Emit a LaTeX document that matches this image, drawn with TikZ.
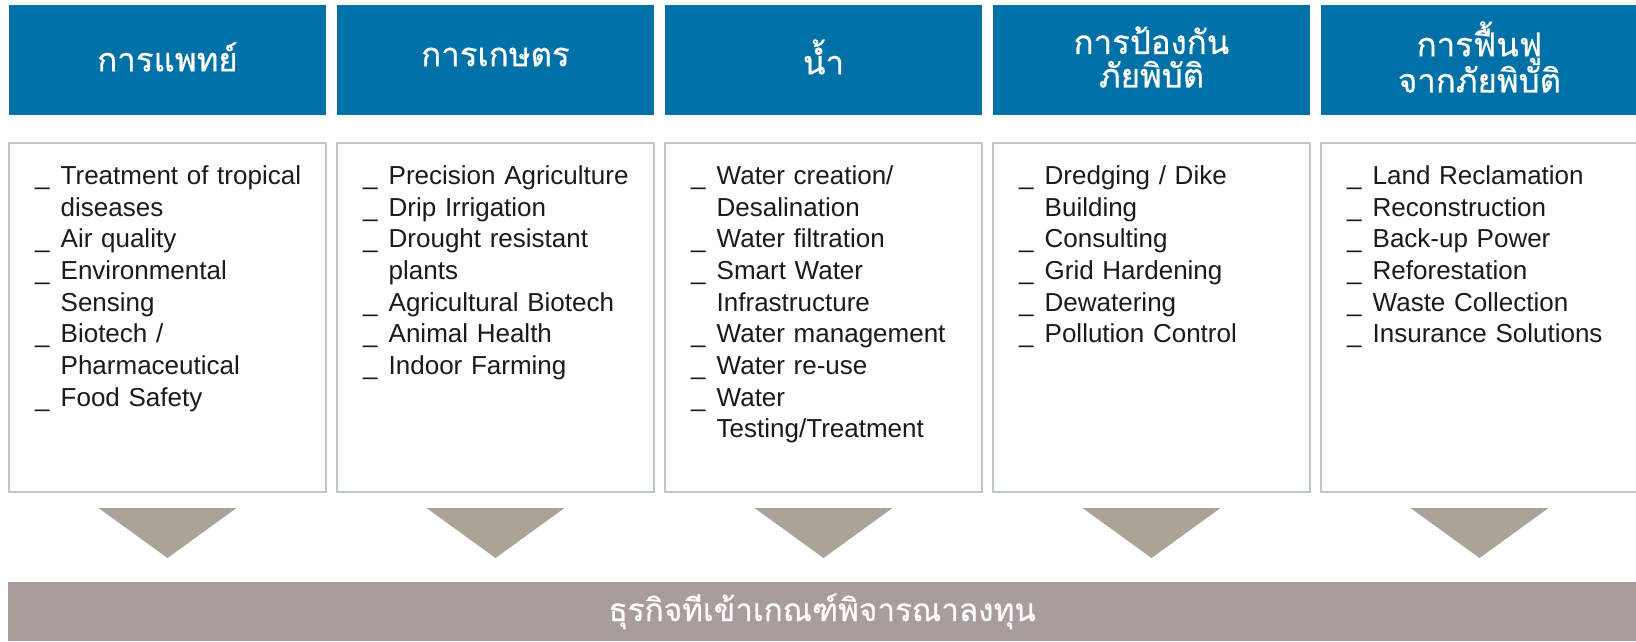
\documentclass[tikz,border=0pt]{standalone}
\usepackage{fontspec}
\setmainfont{Liberation Sans}
\newfontfamily\thaifont[Script=Thai,FakeBold=0.6]{Loma}
\usepackage{xcolor}
\usepackage{tikz}
\usetikzlibrary{positioning,calc}
\definecolor{headblue}{HTML}{0071A7}
\definecolor{boxline}{HTML}{BCC6CB}
\definecolor{itemtext}{HTML}{1A1A1A}
\definecolor{tricol}{HTML}{ACA397}
\definecolor{barcol}{HTML}{A99D9B}
\newcommand{\itm}[1]{\hangindent=25.5pt\hangafter=1\noindent\makebox[25.5pt][l]{\strut\_}#1\par}
\tikzset{
  head/.style={fill=headblue, minimum width=317pt, minimum height=110pt,
    inner sep=0pt, outer sep=0pt},
  headtext/.style={text=white, inner sep=0pt, align=center,
    font=\thaifont\fontsize{33}{33.5}\selectfont},
  bodybox/.style={draw=boxline, fill=white, line width=1.5pt, minimum width=317pt,
    minimum height=349pt, outer sep=0pt},
  items/.style={anchor=north west, inner sep=0pt, text width=285pt, align=left,
    text=itemtext, font=\fontsize{26}{31.7}\selectfont},
  tri/.style={fill=tricol},
  barbox/.style={fill=barcol, text=white, minimum width=1628pt, minimum height=59pt,
    inner sep=0pt, font=\thaifont\fontsize{31.5}{33.5}\selectfont},
}

\begin{document}
\begin{tikzpicture}[x=1pt, y=1pt]
  \useasboundingbox (0,0) rectangle (1636,641);
  \node[head] (head1) at (167.5,581) {};
  \node[head, right=11pt of head1] (head2) {};
  \node[head, right=11pt of head2] (head3) {};
  \node[head, right=11pt of head3] (head4) {};
  \node[head, right=11pt of head4] (head5) {};
  \node[headtext] (htext1) at ([yshift=3pt]head1.center) {การแพทย์};
  \node[headtext] (htext2) at ([yshift=3pt]head2.center) {การเกษตร};
  \node[headtext] (htext3) at ([yshift=3pt]head3.center) {น้ำ};
  \node[headtext] (htext4) at ([yshift=3pt]head4.center) {การป้องกัน\\ภัยพิบัติ};
  \node[headtext] (htext5) at ([yshift=3pt]head5.center) {การฟื้นฟู\\จากภัยพิบัติ};

  \node[bodybox, below=28pt of head1] (body1) {};
  \node[bodybox, below=28pt of head2] (body2) {};
  \node[bodybox, below=28pt of head3] (body3) {};
  \node[bodybox, below=28pt of head4] (body4) {};
  \node[bodybox, below=28pt of head5] (body5) {};

  \node[items] (list1) at ([xshift=26pt,yshift=-19pt]body1.north west) {
    \itm{Treatment of tropical\newline diseases}
    \itm{Air quality}
    \itm{Environmental\newline Sensing}
    \itm{Biotech /\newline Pharmaceutical}
    \itm{Food Safety}};
  \node[items] (list2) at ([xshift=26pt,yshift=-19pt]body2.north west) {
    \itm{Precision Agriculture}
    \itm{Drip Irrigation}
    \itm{Drought resistant\newline plants}
    \itm{Agricultural Biotech}
    \itm{Animal Health}
    \itm{Indoor Farming}};
  \node[items] (list3) at ([xshift=26pt,yshift=-19pt]body3.north west) {
    \itm{Water creation/\newline Desalination}
    \itm{Water filtration}
    \itm{Smart Water\newline Infrastructure}
    \itm{Water management}
    \itm{Water re-use}
    \itm{Water\newline Testing/Treatment}};
  \node[items] (list4) at ([xshift=26pt,yshift=-19pt]body4.north west) {
    \itm{Dredging / Dike\newline Building}
    \itm{Consulting}
    \itm{Grid Hardening}
    \itm{Dewatering}
    \itm{Pollution Control}};
  \node[items] (list5) at ([xshift=26pt,yshift=-19pt]body5.north west) {
    \itm{Land Reclamation}
    \itm{Reconstruction}
    \itm{Back-up Power}
    \itm{Reforestation}
    \itm{Waste Collection}
    \itm{Insurance Solutions}};

  \node[barbox, anchor=south west] (bar) at (8,0) {ธุรกิจทีเข้าเกณฑ์พิจารณาลงทุน};

  \fill[tri] ([xshift=-69pt,yshift=-16pt]body1.south) -- ++(138,0) -- ++(-69,-50) -- cycle;
  \fill[tri] ([xshift=-69pt,yshift=-16pt]body2.south) -- ++(138,0) -- ++(-69,-50) -- cycle;
  \fill[tri] ([xshift=-69pt,yshift=-16pt]body3.south) -- ++(138,0) -- ++(-69,-50) -- cycle;
  \fill[tri] ([xshift=-69pt,yshift=-16pt]body4.south) -- ++(138,0) -- ++(-69,-50) -- cycle;
  \fill[tri] ([xshift=-69pt,yshift=-16pt]body5.south) -- ++(138,0) -- ++(-69,-50) -- cycle;
\end{tikzpicture}
\end{document}
